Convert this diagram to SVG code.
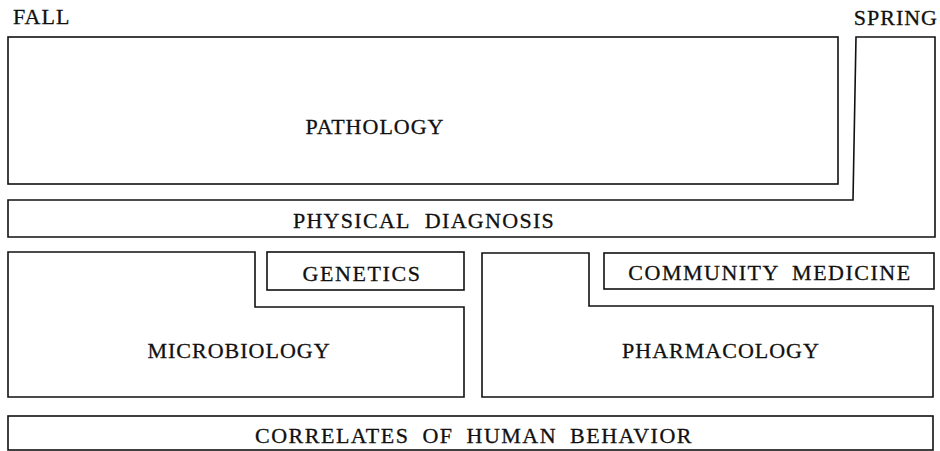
<svg xmlns="http://www.w3.org/2000/svg" width="940" height="451" viewBox="0 0 940 451">
<style>
.b{fill:none;stroke:#111;stroke-width:1.6;stroke-linejoin:miter}
text{font-family:"Liberation Serif","Times New Roman",serif;font-size:22px;fill:#111;stroke:#111;stroke-width:0.3;text-anchor:middle;letter-spacing:1px}
</style>
<rect width="940" height="451" fill="#fff"/>
<text x="13" y="24" style="text-anchor:start">FALL</text>
<text x="938" y="25" style="text-anchor:end">SPRING</text>
<g id="pathology">
<rect class="b" x="8" y="37" width="830" height="147"/>
<text x="375" y="134">PATHOLOGY</text>
</g>
<g id="physical-diagnosis">
<path class="b" d="M856 37 H935 V237 H8 V200 H853 Z"/>
<text x="424" y="228" style="letter-spacing:1.3px;word-spacing:8px">PHYSICAL DIAGNOSIS</text>
</g>
<g id="microbiology">
<path class="b" d="M8 252 H255 V307 H464 V397 H8 Z"/>
<text x="239" y="358">MICROBIOLOGY</text>
</g>
<g id="genetics">
<rect class="b" x="267" y="252" width="197" height="38"/>
<text x="362" y="281" style="letter-spacing:1.6px">GENETICS</text>
</g>
<g id="pharmacology">
<path class="b" d="M482 253 H589 V306 H933 V397 H482 Z"/>
<text x="721" y="358">PHARMACOLOGY</text>
</g>
<g id="community-medicine">
<rect class="b" x="604" y="253" width="330" height="36"/>
<text x="770" y="280" style="letter-spacing:1.5px;word-spacing:6px">COMMUNITY MEDICINE</text>
</g>
<g id="correlates">
<rect class="b" x="8" y="416" width="925" height="34"/>
<text x="474" y="443" style="letter-spacing:1.5px;word-spacing:6px">CORRELATES OF HUMAN BEHAVIOR</text>
</g>
<g id="connectors"></g>
</svg>
